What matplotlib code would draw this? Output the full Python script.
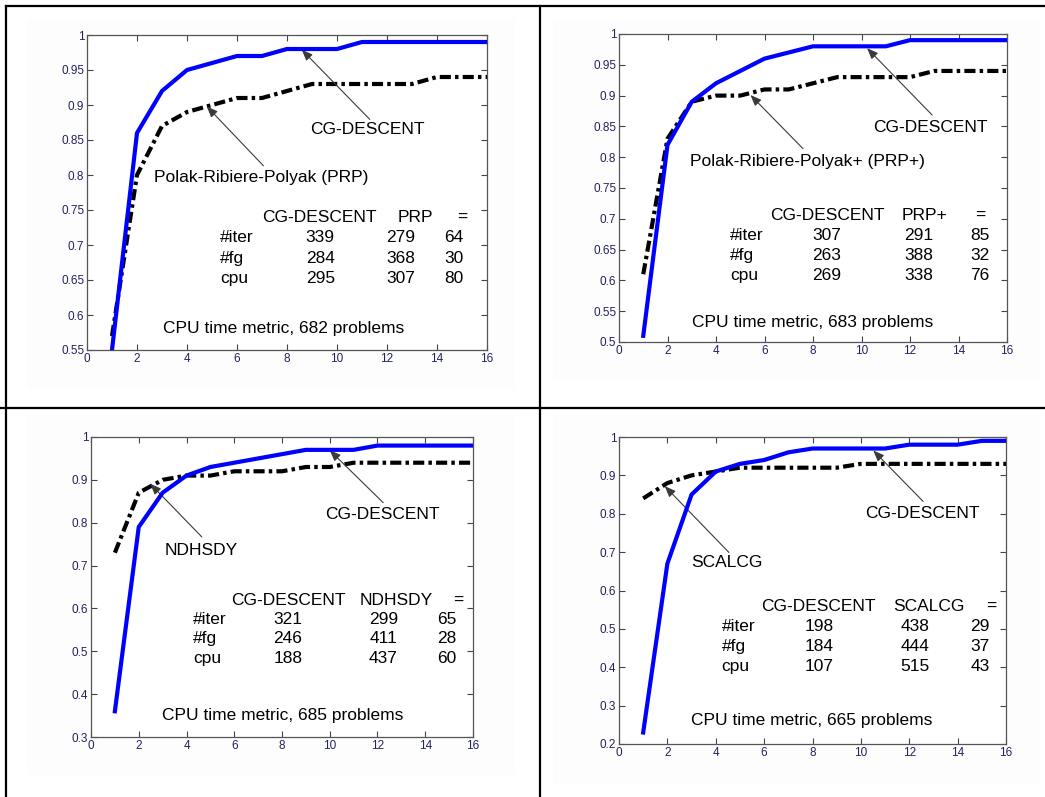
import numpy as np
import matplotlib
matplotlib.use("Agg")
import matplotlib.pyplot as plt
from matplotlib.lines import Line2D
from matplotlib.patches import Rectangle
from matplotlib.ticker import FuncFormatter

plt.rcParams["font.family"] = ["Liberation Sans", "DejaVu Sans"]
plt.rcParams["lines.scale_dashes"] = False

# performance-profile abscissa
tau = list(range(1, 17))

# CG-DESCENT versus each competitor
cg_vs_prp = [0.55, 0.86, 0.92, 0.95, 0.96, 0.97, 0.97, 0.98, 0.98, 0.98, 0.99, 0.99, 0.99, 0.99, 0.99, 0.99]
prp = [0.57, 0.80, 0.87, 0.89, 0.90, 0.91, 0.91, 0.92, 0.93, 0.93, 0.93, 0.93, 0.93, 0.94, 0.94, 0.94]

cg_vs_prpplus = [0.51, 0.82, 0.89, 0.92, 0.94, 0.96, 0.97, 0.98, 0.98, 0.98, 0.98, 0.99, 0.99, 0.99, 0.99, 0.99]
prpplus = [0.61, 0.83, 0.89, 0.90, 0.90, 0.91, 0.91, 0.92, 0.93, 0.93, 0.93, 0.93, 0.94, 0.94, 0.94, 0.94]

cg_vs_ndhsdy = [0.36, 0.79, 0.87, 0.91, 0.93, 0.94, 0.95, 0.96, 0.97, 0.97, 0.97, 0.98, 0.98, 0.98, 0.98, 0.98]
ndhsdy = [0.73, 0.87, 0.90, 0.91, 0.91, 0.92, 0.92, 0.92, 0.93, 0.93, 0.94, 0.94, 0.94, 0.94, 0.94, 0.94]

cg_vs_scalcg = [0.23, 0.67, 0.85, 0.91, 0.93, 0.94, 0.96, 0.97, 0.97, 0.97, 0.97, 0.98, 0.98, 0.98, 0.99, 0.99]
scalcg = [0.84, 0.88, 0.90, 0.91, 0.92, 0.92, 0.92, 0.92, 0.92, 0.93, 0.93, 0.93, 0.93, 0.93, 0.93, 0.93]

# comparison tables: rows #iter, #fg, cpu -> (CG-DESCENT wins, other wins, ties)
row_labels = ["#iter", "#fg", "cpu"]
table_prp = [[339, 279, 64], [284, 368, 30], [295, 307, 80]]
table_prpplus = [[307, 291, 85], [263, 388, 32], [269, 338, 76]]
table_ndhsdy = [[321, 299, 65], [246, 411, 28], [188, 437, 60]]
table_scalcg = [[198, 438, 29], [184, 444, 37], [107, 515, 43]]

names = ["PRP", "PRP+", "NDHSDY", "SCALCG"]
long_names = ["Polak-Ribiere-Polyak (PRP)", "Polak-Ribiere-Polyak+ (PRP+)", "NDHSDY", "SCALCG"]
problems = [682, 683, 685, 665]

fig = plt.figure(figsize=(10.45, 7.97), dpi=100)
W, H = 1045, 797


def px_rect(l, t, r, b):
    return [l / W, 1 - b / H, (r - l) / W, (b - t) / H]


# faint figure-background regions behind each plot
for (l, t, r, b) in [(27, 18, 515, 390), (553, 18, 1040, 380), (27, 415, 515, 775), (553, 415, 1040, 785)]:
    fig.add_artist(Rectangle((l / W, 1 - b / H), (r - l) / W, (b - t) / H,
                             transform=fig.transFigure, facecolor="#fdfdfd", edgecolor="none", zorder=0))

panels = [
    dict(rect=px_rect(87, 35, 487, 350), ylim=(0.55, 1.0), ystep=0.05,
         cg=cg_vs_prp, other=prp, table=table_prp,
         cg_lab=(0.557, 0.70), cg_tail=(0.707, 0.732), cg_head=(8.59, 0.979),
         ot_lab=(0.168, 0.547), ot_tail=(0.441, 0.585), ot_head=(4.79, 0.898),
         hdr_y=0.421, row_y=[0.356, 0.291, 0.228], lab_x=0.333,
         col_x=[0.583, 0.785, 0.917], hdr_x=[0.582, 0.822, 0.938], cpu=(0.191, 0.069)),
    dict(rect=px_rect(619, 34, 1007, 342), ylim=(0.5, 1.0), ystep=0.05,
         cg=cg_vs_prpplus, other=prpplus, table=table_prpplus,
         cg_lab=(0.656, 0.697), cg_tail=(0.807, 0.737), cg_head=(10.23, 0.977),
         ot_lab=(0.184, 0.585), ot_tail=(0.474, 0.628), ot_head=(5.42, 0.901),
         hdr_y=0.412, row_y=[0.347, 0.282, 0.217], lab_x=0.287,
         col_x=[0.536, 0.772, 0.93], hdr_x=[0.536, 0.788, 0.93], cpu=(0.188, 0.062)),
    dict(rect=px_rect(91, 437, 473, 737), ylim=(0.3, 1.0), ystep=0.1,
         cg=cg_vs_ndhsdy, other=ndhsdy, table=table_ndhsdy,
         cg_lab=(0.614, 0.742), cg_tail=(0.765, 0.781), cg_head=(10.0, 0.969),
         ot_lab=(0.192, 0.622), ot_tail=(0.29, 0.667), ot_head=(2.48, 0.891),
         hdr_y=0.456, row_y=[0.391, 0.327, 0.263], lab_x=0.267,
         col_x=[0.515, 0.765, 0.931], hdr_x=[0.516, 0.80, 0.961], cpu=(0.187, 0.072)),
    dict(rect=px_rect(619, 437, 1006, 744), ylim=(0.2, 1.0), ystep=0.1,
         cg=cg_vs_scalcg, other=scalcg, table=table_scalcg,
         cg_lab=(0.635, 0.752), cg_tail=(0.786, 0.79), cg_head=(10.51, 0.965),
         ot_lab=(0.187, 0.591), ot_tail=(0.284, 0.624), ot_head=(1.89, 0.872),
         hdr_y=0.448, row_y=[0.383, 0.317, 0.254], lab_x=0.265,
         col_x=[0.516, 0.765, 0.933], hdr_x=[0.515, 0.802, 0.963], cpu=(0.187, 0.078)),
]

TXT = 12.5
tick_color = "#22225e"
arrow_kw = dict(arrowstyle="-|>,head_length=0.55,head_width=0.22", color="#3a3a3a",
                lw=0.8, shrinkA=0, shrinkB=0, mutation_scale=12)

for i, p in enumerate(panels):
    ax = fig.add_axes(p["rect"])
    ax.set_facecolor("white")
    ax.plot(tau, p["other"], color="black", lw=3.0, dashes=(8, 3, 2.5, 3), zorder=3)
    ax.plot(tau, p["cg"], color="#0000ff", lw=3.0, zorder=4)
    ax.set_xlim(0, 16)
    ax.set_ylim(*p["ylim"])
    ax.set_xticks(np.arange(0, 17, 2))
    ax.set_yticks(np.arange(p["ylim"][0], 1.0 + 1e-9, p["ystep"]))
    ax.yaxis.set_major_formatter(FuncFormatter(lambda v, pos: f"{round(v, 2):g}"))
    ax.tick_params(direction="in", length=4, width=0.8, color="#444444",
                   top=True, right=True, labelsize=8.5, labelcolor=tick_color, pad=2)
    for s in ax.spines.values():
        s.set_color("#555555")
        s.set_linewidth(0.9)

    # curve labels with arrows
    ax.text(*p["cg_lab"], "CG-DESCENT", transform=ax.transAxes, fontsize=TXT, ha="left", va="center")
    ax.annotate("", xy=p["cg_head"], xycoords="data", xytext=p["cg_tail"],
                textcoords="axes fraction", arrowprops=arrow_kw)
    ax.text(*p["ot_lab"], long_names[i], transform=ax.transAxes, fontsize=TXT, ha="left", va="center")
    ax.annotate("", xy=p["ot_head"], xycoords="data", xytext=p["ot_tail"],
                textcoords="axes fraction", arrowprops=arrow_kw)

    # win/tie table
    for hx, h in zip(p["hdr_x"], ["CG-DESCENT", names[i], "="]):
        ax.text(hx, p["hdr_y"], h, transform=ax.transAxes, fontsize=TXT, ha="center", va="center")
    for ry, lab, row in zip(p["row_y"], row_labels, p["table"]):
        ax.text(p["lab_x"], ry, lab, transform=ax.transAxes, fontsize=TXT, ha="left", va="center")
        for cx, v in zip(p["col_x"], row):
            ax.text(cx, ry, str(v), transform=ax.transAxes, fontsize=TXT, ha="center", va="center")

    ax.text(*p["cpu"], f"CPU time metric, {problems[i]} problems", transform=ax.transAxes,
            fontsize=TXT, ha="left", va="center")

# cell borders around the four plots
border = dict(color="black", lw=1.6, transform=fig.transFigure, zorder=10)
fig.add_artist(Line2D([6 / W, 1], [1 - 6 / H, 1 - 6 / H], **border))
fig.add_artist(Line2D([0, 1], [1 - 407.5 / H, 1 - 407.5 / H], **border))
fig.add_artist(Line2D([6 / W, 6 / W], [0, 1 - 6 / H], **border))
fig.add_artist(Line2D([540 / W, 540 / W], [0, 1 - 6 / H], **border))

fig.savefig("out.png", dpi=100, facecolor="white")
